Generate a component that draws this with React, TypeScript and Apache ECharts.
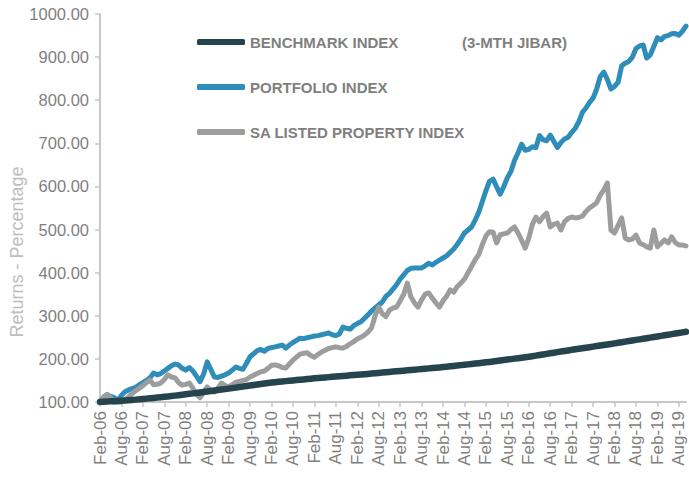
import React, { useEffect, useRef } from "react";
import * as echarts from "echarts";

const MONTHS = ["Jan", "Feb", "Mar", "Apr", "May", "Jun", "Jul", "Aug", "Sep", "Oct", "Nov", "Dec"];
// Monthly categories Feb-06 .. Oct-19
const categories: string[] = [];
for (let i = 0; i < 165; i++) {
  const mi = (1 + i) % 12;
  const yr = 2006 + Math.floor((1 + i) / 12);
  categories.push(`${MONTHS[mi]}-${String(yr % 100).padStart(2, "0")}`);
}

const yTicks = [100, 200, 300, 400, 500, 600, 700, 800, 900, 1000];

const benchmark = [
  100, 100.5, 101, 101.5, 102, 102.5, 103, 103.6, 104.2, 104.8, 105.5, 106.2,
  107, 107.8, 108.6, 109.5, 110.3, 111.2, 112, 112.9, 113.8, 114.8, 115.8, 116.9,
  118, 119, 120, 121.1, 122.2, 123.3, 124.4, 125.5, 126.6, 127.7, 128.8, 129.9,
  131, 132.2, 133.4, 134.6, 135.8, 137, 138.2, 139.4, 140.6, 141.8, 142.9, 144,
  145, 146, 146.8, 147.6, 148.4, 149.2, 150, 150.8, 151.6, 152.4, 153.2, 154.1,
  155, 155.7, 156.3, 157, 157.7, 158.3, 159, 159.7, 160.4, 161.1, 161.8, 162.4,
  163, 163.7, 164.5, 165.2, 166, 166.7, 167.5, 168.2, 169, 169.7, 170.5, 171.2,
  172, 172.7, 173.5, 174.2, 175, 175.7, 176.5, 177.2, 178, 178.8, 179.5, 180.2,
  181, 181.9, 182.8, 183.7, 184.6, 185.5, 186.4, 187.3, 188.2, 189.2, 190.1, 191,
  192, 193, 194.1, 195.2, 196.2, 197.3, 198.4, 199.5, 200.6, 201.7, 202.8, 203.9,
  205, 206.3, 207.6, 209, 210.3, 211.6, 213, 214.3, 215.6, 217, 218.3, 219.6,
  221, 222.2, 223.5, 224.7, 226, 227.2, 228.5, 229.7, 231, 232.2, 233.5, 234.7,
  236, 237.3, 238.6, 240, 241.3, 242.6, 244, 245.3, 246.6, 248, 249.3, 250.6,
  252, 253.4, 254.8, 256.1, 257.5, 258.9, 260.2, 261.6, 263,
];

const portfolio = [
  102, 110, 117, 113, 110, 104, 115, 124, 128, 131, 134, 140,
  145, 150, 156, 167, 163, 166, 172, 178, 184, 188, 186, 178,
  174, 180, 172, 160, 147, 165, 193, 176, 158, 157, 160, 163,
  167, 174, 181, 178, 176, 190, 205, 212, 219, 222, 218, 224,
  226, 228, 230, 232, 225, 232, 238, 243, 248, 247, 249, 251,
  253, 254, 256, 258, 260, 256, 254, 258, 274, 271, 269, 277,
  282, 286, 294, 302, 311, 318, 325, 332, 345, 352, 362, 372,
  385, 395, 405, 410, 411, 411, 411, 416, 422, 418, 424, 429,
  434, 439, 447, 455, 466, 478, 492, 499, 506, 522, 540, 565,
  590, 612, 617, 599, 582, 600, 620, 635, 660, 678, 698, 684,
  686, 692, 690, 718, 708, 706, 719, 705, 690, 702, 710, 714,
  725, 735, 750, 772, 782, 795, 805, 826, 855, 865, 848, 826,
  832, 842, 880, 886, 890, 900, 920, 926, 928, 898, 905, 925,
  945, 940, 948, 950, 954, 955, 951, 960, 972,
];

const property = [
  100, 112, 118, 110, 98, 95, 100, 105, 112, 120, 126, 132,
  138, 145, 151, 140, 141, 144, 152, 163, 158, 156, 145, 139,
  141, 144, 132, 118, 110, 122, 135, 126, 123, 132, 144, 138,
  135, 140, 146, 148, 150, 152, 158, 162, 166, 170, 172, 178,
  185, 186, 184, 180, 179, 188, 197, 204, 211, 213, 214, 208,
  204, 210, 216, 220, 224, 226, 228, 226, 225, 229, 235, 240,
  246, 250, 255, 262, 272, 300, 320, 305, 298, 313, 318, 320,
  335, 350, 376, 344, 330, 320, 337, 350, 353, 341, 330, 320,
  335, 345, 360, 355, 368, 376, 385, 400, 415, 430, 442, 465,
  485, 495, 494, 469, 488, 490, 492, 500, 506, 492, 475, 457,
  480, 512, 529, 518, 530, 538, 506, 512, 515, 499, 518, 526,
  529, 527, 528, 531, 542, 550, 556, 562, 580, 592, 608, 499,
  492, 510, 527, 480, 476, 478, 487, 469, 465, 460, 457, 499,
  460, 468, 476, 469, 483, 470, 464, 464, 462,
];

const seriesNames = ["BENCHMARK INDEX", "PORTFOLIO INDEX", "SA LISTED PROPERTY INDEX"];
const seriesColors = ["#26444e", "#2f8dba", "#9d9d9d"];
const FONT = "'Liberation Sans', Arial, sans-serif";
const TEXT_GREY = "#7f7f7f";
const AXIS_GREY = "#c8c8c8";

export default function App() {
  const ref = useRef<HTMLDivElement>(null);
  useEffect(() => {
    if (!ref.current) return;
    const chart = echarts.init(ref.current, undefined, { renderer: "svg" });
    const datasets = [benchmark, portfolio, property];
    chart.setOption({
      animation: false,
      backgroundColor: "#ffffff",
      grid: { left: 100, right: 3, top: 14, bottom: 75, outerBoundsMode: "none" },
      legend: {
        orient: "vertical",
        left: 197,
        top: 33,
        padding: 0,
        itemGap: 27,
        itemWidth: 48,
        itemHeight: 6,
        icon: "roundRect",
        data: seriesNames,
        textStyle: {
          color: TEXT_GREY,
          fontFamily: FONT,
          fontWeight: "bold",
          fontSize: 15,
          lineHeight: 18,
        },
        selectedMode: false,
      },
      xAxis: {
        type: "category",
        data: categories,
        boundaryGap: false,
        axisLine: { lineStyle: { color: AXIS_GREY, width: 2 } },
        axisTick: { interval: 5, length: 5, lineStyle: { color: AXIS_GREY, width: 1.5 } },
        axisLabel: {
          interval: 5,
          rotate: 90,
          margin: 9,
          color: TEXT_GREY,
          fontFamily: FONT,
          fontSize: 17,
        },
        splitLine: { show: false },
      },
      yAxis: {
        type: "value",
        min: yTicks[0],
        max: yTicks[yTicks.length - 1],
        interval: 100,
        axisLine: { show: true, lineStyle: { color: AXIS_GREY, width: 2 } },
        axisTick: { show: true, length: 5, lineStyle: { color: AXIS_GREY, width: 1.5 } },
        axisLabel: {
          margin: 11,
          color: TEXT_GREY,
          fontFamily: FONT,
          fontSize: 16.5,
          formatter: (v: number) => v.toFixed(2),
        },
        splitLine: { show: false },
      },
      graphic: [
        {
          type: "text",
          x: 17,
          y: 252,
          rotation: Math.PI / 2,
          style: {
            text: "Returns - Percentage",
            fill: "#bdbdbd",
            font: `18px ${FONT}`,
            align: "center",
            verticalAlign: "middle",
          },
        },
        {
          type: "text",
          x: 462,
          y: 42,
          style: {
            text: "(3-MTH JIBAR)",
            fill: TEXT_GREY,
            font: `bold 15px ${FONT}`,
            align: "left",
            verticalAlign: "middle",
          },
        },
      ],
      series: seriesNames.map((name, i) => ({
        name,
        type: "line",
        data: datasets[i],
        showSymbol: false,
        symbol: "none",
        z: i === 0 ? 5 : i === 1 ? 3 : 4,
        itemStyle: { color: seriesColors[i] },
        lineStyle: {
          color: seriesColors[i],
          width: i === 0 ? 6.5 : 5,
          cap: "round",
          join: "round",
        },
      })),
    });
    return () => chart.dispose();
  }, []);
  return (
    <div
      ref={ref}
      style={{ position: "fixed", left: 0, top: 0, width: 689, height: 477 }}
    />
  );
}
